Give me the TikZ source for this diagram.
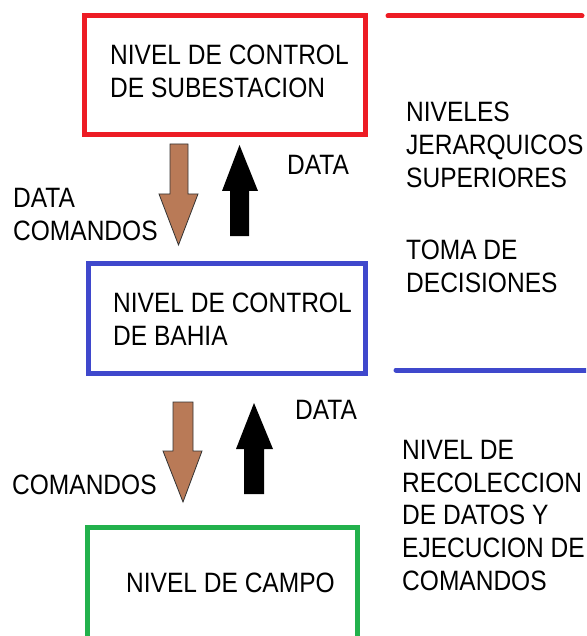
\documentclass[tikz,border=0pt]{standalone}
\usepackage{fontspec}
\setmainfont{Liberation Sans}[FakeStretch=0.876]
\usepackage{tikz}
\definecolor{rojo}{HTML}{ED1C24}
\definecolor{azul}{HTML}{3F48CC}
\definecolor{verde}{HTML}{22B14C}
\definecolor{cafe}{HTML}{B97A57}
\begin{document}
\begin{tikzpicture}[x=1pt,y=-1pt,
	caja/.style={draw=#1,line width=5pt,rectangle,inner sep=0pt},
	texto/.style={anchor=north west,inner sep=0pt,align=left,font=\fontsize{28}{32.7}\selectfont},
	raya/.style={#1,line width=5pt,line cap=round}]
			\useasboundingbox (0,0) rectangle (586,636);
			\clip (0,0) rectangle (586,636);
			% niveles
			\node[caja=rojo,minimum width=281pt,minimum height=119pt] (subestacion) at (224.9,74.7) {};
			\node[caja=azul,minimum width=277pt,minimum height=110pt] (bahia) at (227,318.5) {};
			\node[caja=verde,minimum width=270pt,minimum height=112pt] (campo) at (222.5,583.5) {};
			\node[texto] (tsubestacion) at (110,45) {NIVEL DE CONTROL\\DE SUBESTACION};
			\node[texto] (tbahia) at (113,293) {NIVEL DE CONTROL\\DE BAHIA};
			\node[texto] (tcampo) at (126,573) {NIVEL DE CAMPO};
			% flechas de comandos
			\draw[fill=cafe,draw=black!80,line width=0.8pt] (170,144) -- (188,144) -- (188,194) -- (198,194) -- (178.5,245) -- (159,194) -- (170,194) -- cycle;
			\draw[fill=cafe,draw=black!80,line width=0.8pt] (173,402) -- (193,402) -- (193,451) -- (202,451) -- (183,502) -- (163,451) -- (173,451) -- cycle;
			% flechas de datos
			\fill (230,236) -- (249,236) -- (249,191) -- (258,191) -- (239.5,145) -- (222,191) -- (230,191) -- cycle;
			\fill (244,494) -- (264,494) -- (264,449) -- (273,449) -- (254,403) -- (236,449) -- (244,449) -- cycle;
			\node[texto] (data1) at (287,155) {DATA};
			\node[texto] (comandos1) at (13,188) {DATA\\COMANDOS};
			\node[texto] (data2) at (295,400) {DATA};
			\node[texto] (comandos2) at (12,475) {COMANDOS};
			% columna derecha
			\draw[raya=rojo] (388,16) -- (582,16);
			\draw[raya=azul] (396,370) -- (592,370);
			\node[texto] (superiores) at (406,102) {NIVELES\\JERARQUICOS\\SUPERIORES};
			\node[texto] (decisiones) at (406,240) {TOMA DE\\DECISIONES};
			\node[texto] (recoleccion) at (402,440) {NIVEL DE\\RECOLECCION\\DE DATOS Y\\EJECUCION DE\\COMANDOS};
		\end{tikzpicture}
\end{document}
